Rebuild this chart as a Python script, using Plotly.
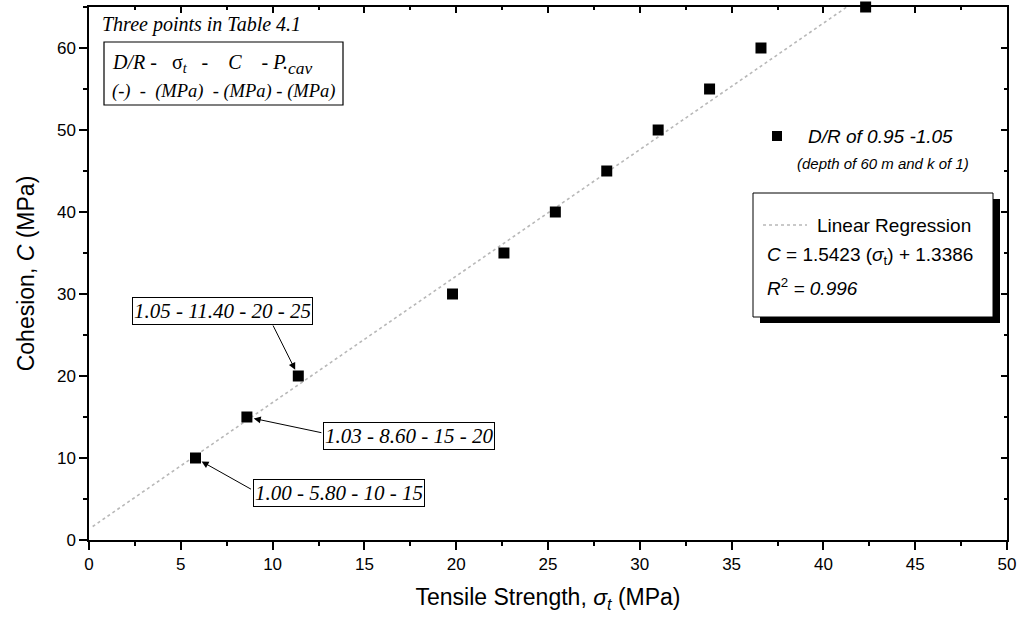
import plotly.graph_objects as go

# ---- data ----
tensile_strength = [5.8, 8.6, 11.4, 19.8, 22.6, 25.4, 28.2, 31.0, 33.8, 36.6, 42.3]
cohesion = [10, 15, 20, 30, 35, 40, 45, 50, 55, 60, 65]
reg_slope = 1.5423
reg_intercept = 1.3386
reg_x_range = [0.2, 41.3]
x_ticks = [0, 5, 10, 15, 20, 25, 30, 35, 40, 45, 50]
y_ticks = [0, 10, 20, 30, 40, 50, 60]
point_labels = ["1.00 - 5.80 - 10 - 15", "1.03 - 8.60 - 15 - 20", "1.05 - 11.40 - 20 - 25"]

reg_y = [reg_slope * v + reg_intercept for v in reg_x_range]

ARIAL = "Liberation Sans, Arial, sans-serif"
TIMES = "Liberation Serif, Times New Roman, serif"
NB = "\u00a0"

fig = go.Figure()
fig.add_trace(go.Scatter(x=reg_x_range, y=reg_y, mode="lines",
                         line=dict(color="#b8b8b8", width=1.6, dash="dot"),
                         showlegend=False, hoverinfo="skip", cliponaxis=False))
fig.add_trace(go.Scatter(x=tensile_strength, y=cohesion, mode="markers",
                         marker=dict(symbol="square", size=11, color="black"),
                         showlegend=False, cliponaxis=False))
# invisible trace to activate mirrored axes with inward ticks
fig.add_trace(go.Scatter(x=[None], y=[None], xaxis="x2", yaxis="y2",
                         showlegend=False, hoverinfo="skip"))

L, R, T, B = 89, 18, 7, 90
W, H = 1025, 630
pw, ph = W - L - R, H - T - B

def px(xp):
    return (xp - L) / pw

def py(yp):
    return (H - B - yp) / ph

axis_common = dict(showgrid=False, zeroline=False, showline=True, linecolor="black",
                   linewidth=1.5, automargin=False)
fig.update_layout(
    width=W, height=H, margin=dict(l=L, r=R, t=T, b=B),
    plot_bgcolor="white", paper_bgcolor="white",
    xaxis=dict(range=[0, 50], tickvals=x_ticks, ticks="outside", ticklen=8, tickwidth=1.5,
               tickcolor="black",
               minor=dict(dtick=2.5, ticks="outside", ticklen=4, tickwidth=1.5, tickcolor="black"),
               tickfont=dict(family=ARIAL, size=17, color="black"),
               title=dict(text="Tensile Strength, <i>σ<sub>t</sub></i> (MPa)",
                          font=dict(family=ARIAL, size=23, color="black"), standoff=16),
               **axis_common),
    yaxis=dict(range=[0, 65], tickvals=y_ticks, ticks="outside", ticklen=8, tickwidth=1.5,
               tickcolor="black",
               minor=dict(dtick=5, ticks="outside", ticklen=4, tickwidth=1.5, tickcolor="black"),
               tickfont=dict(family=ARIAL, size=17, color="black"),
               title=dict(text="Cohesion, <i>C</i> (MPa)",
                          font=dict(family=ARIAL, size=23, color="black"), standoff=16),
               **axis_common),
    xaxis2=dict(range=[0, 50], overlaying="x", side="top", anchor="y2", tickvals=x_ticks,
                ticks="inside", ticklen=6, tickwidth=1.5, tickcolor="black",
                minor=dict(dtick=2.5, ticks="inside", ticklen=3, tickwidth=1.5, tickcolor="black"),
                showticklabels=False, **axis_common),
    yaxis2=dict(range=[0, 65], overlaying="y", side="right", anchor="x2", tickvals=y_ticks,
                ticks="inside", ticklen=6, tickwidth=1.5, tickcolor="black",
                minor=dict(dtick=5, ticks="inside", ticklen=3, tickwidth=1.5, tickcolor="black"),
                showticklabels=False, **axis_common),
    showlegend=False,
)

shapes = []
anns = []

# ---- top-left table header ----
anns.append(dict(x=px(100), y=py(25), xref="paper", yref="paper", xanchor="left", yanchor="middle",
                 text="<i>Three points in Table 4.1</i>", showarrow=False,
                 font=dict(family=TIMES, size=20, color="black")))
shapes.append(dict(type="rect", xref="paper", yref="paper", x0=px(104), x1=px(343),
                   y0=py(105), y1=py(42), line=dict(color="black", width=1.2), fillcolor="white",
                   layer="above"))
line1 = ("<i>D/R</i> -" + NB * 3 + "σ<sub><i>t</i></sub>" + NB * 3 + "-" + NB * 4 + "<i>C</i>"
         + NB * 4 + "- <i>P.</i><span style='font-size:25px'><sub><i>cav</i></sub></span>")
anns.append(dict(x=px(110), y=py(65), xref="paper", yref="paper", xanchor="left", yanchor="middle",
                 text=line1, showarrow=False, font=dict(family=TIMES, size=20, color="black")))
line2 = "<i>(-)" + NB * 2 + "-" + NB * 2 + "(MPa)" + NB * 2 + "- (MPa) - (MPa)</i>"
anns.append(dict(x=px(110), y=py(91), xref="paper", yref="paper", xanchor="left", yanchor="middle",
                 text=line2, showarrow=False, font=dict(family=TIMES, size=18.5, color="black")))

# ---- point legend ----
shapes.append(dict(type="rect", xref="paper", yref="paper", xsizemode="pixel", ysizemode="pixel",
                   xanchor=px(777), yanchor=py(136), x0=-5, x1=5, y0=-5, y1=5,
                   fillcolor="black", line=dict(width=0)))
anns.append(dict(x=px(806), y=py(136), xref="paper", yref="paper", xanchor="left", yanchor="middle",
                 text="<i>D/R of 0.95 -1.05</i>", showarrow=False,
                 font=dict(family=ARIAL, size=19, color="black")))
anns.append(dict(x=px(795), y=py(163), xref="paper", yref="paper", xanchor="left", yanchor="middle",
                 text="<i>(depth of 60 m and k of 1)</i>", showarrow=False,
                 font=dict(family=ARIAL, size=15, color="black")))

# ---- regression box with shadow ----
shapes.append(dict(type="rect", xref="paper", yref="paper", x0=px(760), x1=px(1000),
                   y0=py(323), y1=py(199), fillcolor="black", line=dict(width=0)))
shapes.append(dict(type="rect", xref="paper", yref="paper", x0=px(753), x1=px(993),
                   y0=py(317), y1=py(193), fillcolor="white", line=dict(color="black", width=1)))
shapes.append(dict(type="line", xref="paper", yref="paper", x0=px(763), x1=px(807),
                   y0=py(225), y1=py(225), line=dict(color="#b8b8b8", width=1.6, dash="dot")))
anns.append(dict(x=px(815), y=py(225), xref="paper", yref="paper", xanchor="left", yanchor="middle",
                 text="Linear Regression", showarrow=False,
                 font=dict(family=ARIAL, size=19, color="black")))
anns.append(dict(x=px(765), y=py(256), xref="paper", yref="paper", xanchor="left", yanchor="middle",
                 text=f"<i>C</i> = {reg_slope} (<i>σ</i><sub>t</sub>) + {reg_intercept}",
                 showarrow=False, font=dict(family=ARIAL, size=19, color="black")))
anns.append(dict(x=px(765), y=py(287), xref="paper", yref="paper", xanchor="left", yanchor="middle",
                 text="<i>R</i><sup>2</sup><i> = 0.996</i>", showarrow=False,
                 font=dict(family=ARIAL, size=19, color="black")))

# ---- labelled points ----
box_left_mid = [(253, 493), (323, 436), (132, 311)]
arrow_tails = [(57, 32), (76, 16), (-26, -52)]
for i, lab in enumerate(point_labels):
    lx, cy = box_left_mid[i]
    anns.append(dict(x=px(lx), y=py(cy), xref="paper", yref="paper", xanchor="left",
                     yanchor="middle", text=f"<i>{lab}</i>", showarrow=False,
                     font=dict(family=TIMES, size=21, color="black"),
                     bordercolor="black", borderwidth=1, borderpad=1, bgcolor="white"))
    ax, ay = arrow_tails[i]
    anns.append(dict(x=tensile_strength[i], y=cohesion[i], xref="x", yref="y", text="",
                     showarrow=True, ax=ax, ay=ay, arrowhead=2, arrowsize=1.4, arrowwidth=1,
                     arrowcolor="black", standoff=7))

fig.update_layout(shapes=shapes, annotations=anns)
fig.write_html("out.html", config={"displayModeBar": False},
               post_script="document.body.style.margin='0';")
